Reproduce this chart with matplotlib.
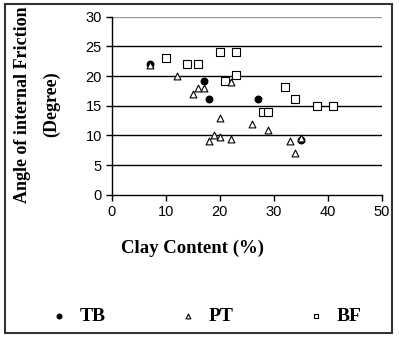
import numpy as np
import matplotlib.pyplot as plt
from matplotlib.patches import Rectangle

# data
tb_clay = [7, 17, 18, 27, 35]
tb_phi = [22, 19.2, 16.2, 16.2, 9.2]

pt_clay = [7, 12, 15, 16, 17, 22, 20, 26, 29, 19, 20, 18, 22, 33, 35, 34]
pt_phi = [21.9, 20, 17, 18, 18, 19, 13, 12, 11, 10, 9.8, 9, 9.4, 9, 9.5, 7]

bf_clay = [10, 14, 16, 20, 23, 23, 21, 32, 34, 38, 41, 28, 29]
bf_phi = [23, 22, 22, 24, 24, 20.1, 19.1, 18.1, 16.2, 15, 15, 14, 14]

fig = plt.figure(figsize=(3.99, 3.39), dpi=100)
ax = fig.add_axes([0.28, 0.425, 0.677, 0.526])

ax.scatter(tb_clay, tb_phi, marker='o', s=22, color='black', zorder=3, label='TB')
ax.scatter(pt_clay, pt_phi, marker='^', s=24, facecolor='white', edgecolor='black',
           linewidth=0.8, zorder=4, label='PT')
ax.scatter(bf_clay, bf_phi, marker='s', s=26, facecolor='white', edgecolor='black',
           linewidth=0.8, zorder=3, label='BF')

ax.set_xlim(0, 50)
ax.set_ylim(0, 30)
ax.set_xticks(np.arange(0, 51, 10))
ax.set_yticks(np.arange(0, 31, 5))
for yv in [5, 10, 15, 20, 25]:
    ax.axhline(yv, color='black', lw=1.0, zorder=1)
ax.axhline(30, color='#999999', lw=1.0, zorder=1)

for s in ['top', 'right']:
    ax.spines[s].set_visible(False)
for s in ['left', 'bottom']:
    ax.spines[s].set_linewidth(1.0)
ax.tick_params(direction='out', length=4, width=1, labelsize=10.5, pad=3)
for lab in ax.get_xticklabels() + ax.get_yticklabels():
    lab.set_family('Liberation Sans')

ax.set_xlabel('Clay Content (%)', family='Liberation Serif', fontweight='bold',
              fontsize=13.5)
ax.xaxis.set_label_coords(0.3, -0.25)

fig.text(0.057, 0.692, 'Angle of internal Friction', rotation=90, ha='center', va='center',
         family='Liberation Serif', fontweight='bold', fontsize=13)
fig.text(0.13, 0.692, '(Degree)', rotation=90, ha='center', va='center',
         family='Liberation Serif', fontweight='bold', fontsize=13)

leg = fig.legend(loc='center left', bbox_to_anchor=(0.108, 0.068), ncol=3, frameon=False,
                 handlelength=1.6, columnspacing=3.4, handletextpad=0.3, markerscale=0.7,
                 borderpad=0, borderaxespad=0,
                 prop={'family': 'Liberation Serif', 'weight': 'bold', 'size': 14})

fig.patches.append(Rectangle((0.012, 0.018), 0.97, 0.97, transform=fig.transFigure,
                             fill=False, edgecolor='#333333', linewidth=1.5))

fig.savefig('out.png', dpi=100)
